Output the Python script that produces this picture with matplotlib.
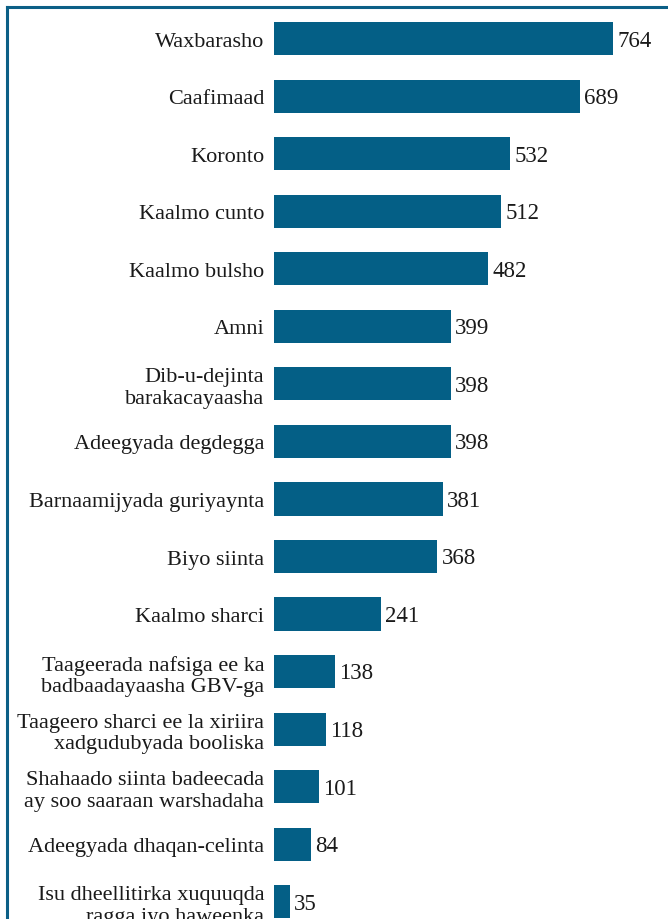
import matplotlib.pyplot as plt
from matplotlib.lines import Line2D

categories = [
    "Waxbarasho",
    "Caafimaad",
    "Koronto",
    "Kaalmo cunto",
    "Kaalmo bulsho",
    "Amni",
    "Dib-u-dejinta\nbarakacayaasha",
    "Adeegyada degdegga",
    "Barnaamijyada guriyaynta",
    "Biyo siinta",
    "Kaalmo sharci",
    "Taageerada nafsiga ee ka\nbadbaadayaasha GBV-ga",
    "Taageero sharci ee la xiriira\nxadgudubyada booliska",
    "Shahaado siinta badeecada\nay soo saaraan warshadaha",
    "Adeegyada dhaqan-celinta",
    "Isu dheellitirka xuquuqda\nragga iyo haweenka",
]
values = [764, 689, 532, 512, 482, 399, 398, 398, 381, 368, 241, 138, 118, 101, 84, 35]

BAR = "#045f86"
FRAME = "#0b5f86"
TEXT = "#1a1a1a"

plt.rcParams["font.family"] = ["Liberation Serif", "DejaVu Serif"]

fig = plt.figure(figsize=(6.68, 9.2), dpi=100)
ax = fig.add_axes([274 / 668, 0, 1 - 274 / 668, 912 / 920])

pos = list(range(len(values)))
ax.barh(pos, values, height=0.575, color=BAR)
ax.set_xlim(0, 888)
ax.set_ylim(15.30, -0.55)
ax.set_yticks(pos)
ax.set_yticklabels(categories, fontsize=16, color=TEXT, linespacing=1.18)
ax.tick_params(axis="y", length=0, pad=7)
ax.set_xticks([])
for s in ax.spines.values():
    s.set_visible(False)

for y, v in zip(pos, values):
    ax.annotate(str(v), (v, y), xytext=(3, -1), textcoords="offset points",
                va="center", ha="left", fontsize=16.5, color=TEXT)

# frame lines (top and left)
fig.add_artist(Line2D([7 / 668, 1], [1 - 8 / 920, 1 - 8 / 920], transform=fig.transFigure,
                      color=FRAME, lw=2.2))
fig.add_artist(Line2D([7 / 668, 7 / 668], [0, 1 - 8 / 920], transform=fig.transFigure,
                      color=FRAME, lw=2.2))

fig.savefig("out.png", dpi=100)
